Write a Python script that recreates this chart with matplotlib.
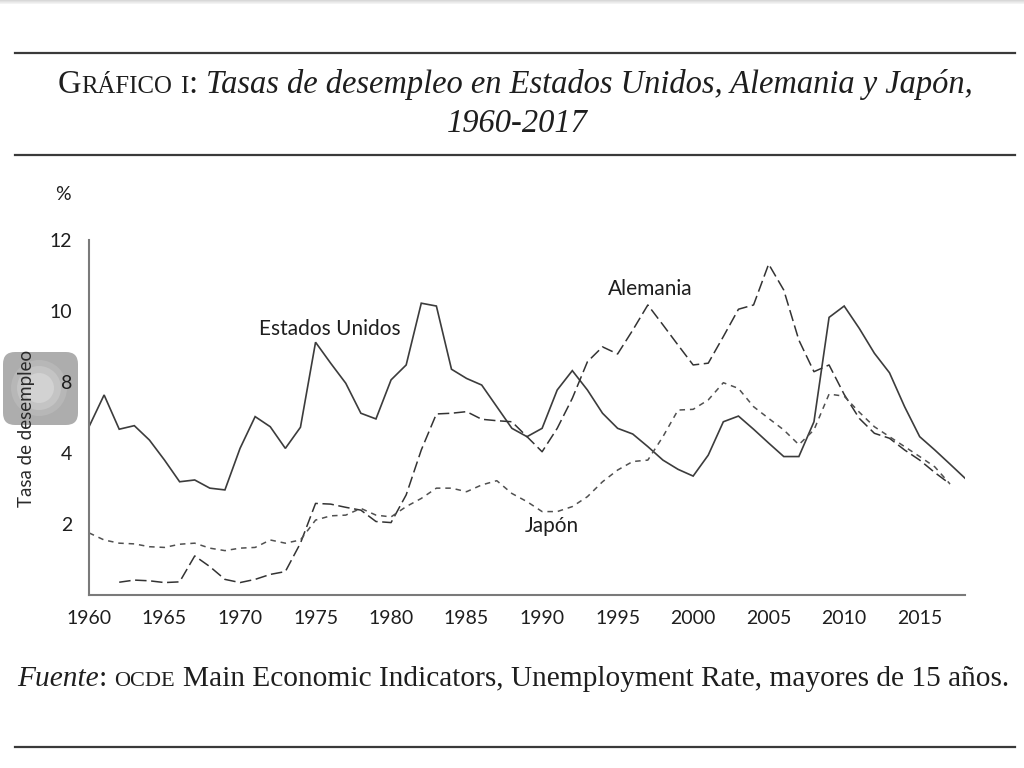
import numpy as np
import matplotlib
matplotlib.use("Agg")
import matplotlib.pyplot as plt
from matplotlib.patches import FancyBboxPatch, Circle, Rectangle
from matplotlib.lines import Line2D

# ---------------- data ----------------
years_us = list(range(1960, 2019))
us = [5.48, 7.27, 5.34, 5.54, 4.73, 3.80, 3.19, 3.24, 3.01, 2.96,
      4.26, 6.05, 5.48, 4.26, 5.45, 9.12, 8.53, 7.93, 6.24, 5.92,
      8.06, 8.48, 10.22, 10.14, 8.36, 8.10, 7.83, 6.61, 5.39, 4.92,
      5.39, 7.55, 8.32, 7.55, 6.24, 5.39, 5.07, 4.36, 3.80, 3.54,
      3.35, 3.94, 5.76, 6.08, 5.34, 4.56, 3.90, 3.90, 5.76, 9.82,
      10.14, 9.51, 8.81, 8.26, 6.61, 4.92, 4.17, 3.69, 3.29]

years_de = list(range(1962, 2018))
de = [0.36, 0.42, 0.40, 0.35, 0.37, 1.10, 0.80, 0.44,
      0.35, 0.44, 0.58, 0.66, 1.46, 2.58, 2.56, 2.47, 2.39, 2.07,
      2.04, 2.82, 4.17, 6.20, 6.24, 6.33, 5.90, 5.82, 5.76, 4.92,
      4.07, 5.39, 7.08, 8.57, 8.99, 8.79, 9.46, 10.17, 9.61, 9.04,
      8.48, 8.53, 9.28, 10.05, 10.17, 11.32, 10.59, 9.18, 8.29, 8.48,
      7.30, 5.95, 5.11, 4.83, 4.17, 3.80, 3.45, 3.13]

years_jp = list(range(1960, 2018))
jp = [1.75, 1.55, 1.46, 1.44, 1.36, 1.34, 1.43, 1.46, 1.32, 1.25,
      1.32, 1.34, 1.55, 1.46, 1.55, 2.11, 2.23, 2.25, 2.44, 2.25,
      2.20, 2.49, 2.72, 3.01, 3.01, 2.91, 3.10, 3.22, 2.86, 2.63,
      2.35, 2.35, 2.49, 2.77, 3.19, 3.52, 3.76, 3.80, 4.92, 6.42,
      6.46, 6.99, 7.96, 7.64, 6.61, 5.95, 5.30, 4.47, 5.30, 7.32,
      7.20, 6.30, 5.48, 4.92, 4.36, 3.90, 3.61, 3.13]

yticks = [2, 4, 8, 10, 12]
xticks = [1960, 1965, 1970, 1975, 1980, 1985, 1990, 1995, 2000, 2005, 2010, 2015]

series_labels = ["Estados Unidos", "Alemania", "Japón"]
title_line2 = "1960-2017"
ylabel = "Tasa de desempleo"

# ---------------- setup ----------------
W, H = 1024, 768
SERIF = ["Liberation Serif", "DejaVu Serif"]
SANS = ["Lato", "DejaVu Sans"]
TXT = "#1e1e1e"

fig = plt.figure(figsize=(W / 100, H / 100), dpi=100)
fig.patch.set_facecolor("white")
renderer = fig.canvas.get_renderer()

# overlay axes in pixel coordinates for decorations
deco = fig.add_axes([0, 0, 1, 1], zorder=0)
deco.set_xlim(0, W)
deco.set_ylim(H, 0)
deco.axis("off")

# faint top shadow band
for i, c in enumerate(["#d8d8d8", "#e2e2e2", "#ebebeb", "#f3f3f3"]):
    deco.add_patch(Rectangle((0, i), W, 1, color=c, lw=0))

# horizontal rules
for yy in (53, 155, 747):
    deco.add_line(Line2D([15, 1015], [yy, yy], color="#3a3a3a", lw=1.6))

# gray button artefact
r = 12
deco.add_patch(FancyBboxPatch((3 + r, 352 + r), 75 - 2 * r, 73 - 2 * r,
                              boxstyle=f"round,pad={r}", fc="#a9a9a9", ec="none", alpha=0.95))
for rad, c in [(28, "#b7b7b7"), (22, "#c4c4c4"), (15, "#d2d2d2")]:
    deco.add_patch(Circle((39, 388), rad, fc=c, ec="none"))


# ---------- rich text runs (small caps emulation) ----------
def space_w(fs, style):
    t1 = fig.text(0, 0, "a a", fontsize=fs, fontstyle=style, family=SERIF)
    t2 = fig.text(0, 0, "aa", fontsize=fs, fontstyle=style, family=SERIF)
    w = t1.get_window_extent(renderer).width - t2.get_window_extent(renderer).width
    t1.remove(); t2.remove()
    return w


def layout(runs, fs, x0, by, draw):
    x = x0
    objs = []
    for txt, sc, st in runs:
        if txt == " ":
            x += space_w(fs * sc, st)
            continue
        t = fig.text(x / W, 1 - by / H, txt, fontsize=fs * sc, fontstyle=st,
                     family=SERIF, va="baseline", ha="left", color=TXT)
        x += t.get_window_extent(renderer).width
        objs.append(t)
    if not draw:
        for o in objs:
            o.remove()
    return x - x0


def draw_runs(runs, cx, by, fs, target_w=None):
    w = layout(runs, fs, 0, by, False)
    if target_w is not None:
        fs = fs * target_w / w
        w = layout(runs, fs, 0, by, False)
    layout(runs, fs, cx - w / 2, by, True)
    return fs


SC = 0.76
title_runs = [("G", 1, "normal"), ("RÁFICO", SC, "normal"), (" ", 1, "normal"),
              ("I", SC, "normal"), (":", 1, "normal"), (" ", 1, "normal"),
              ("Tasas de desempleo en Estados Unidos, Alemania y Japón,", 1, "italic")]
tfs = draw_runs(title_runs, 515, 93, 22, target_w=914)
draw_runs([(title_line2, 1, "italic")], 517, 132, tfs)

foot_runs = [("Fuente", 1, "italic"), (":", 1, "normal"), (" ", 1, "normal"),
             ("OCDE", SC, "normal"), (" ", 1, "normal"),
             ("Main Economic Indicators, Unemployment Rate, mayores de 15 años.", 1, "normal")]
draw_runs(foot_runs, 513, 686, 20, target_w=993)

# ---------------- chart ----------------
ax = fig.add_axes([89 / W, 1 - 595 / H, (965 - 89) / W, (595 - 240) / H], zorder=2)
ax.patch.set_alpha(0)

YK = [0, 2, 4, 8, 10, 12]
YP = [0, 1, 2, 3, 4, 5]


def fwd(v):
    return np.interp(v, YK, YP)


def inv(p):
    return np.interp(p, YP, YK)


ax.set_yscale("function", functions=(fwd, inv))

ax.plot(years_us, us, color="#3c3c3c", lw=1.2, solid_joinstyle="miter")
ax.plot(years_de, de, color="#333333", lw=1.1, dashes=(7.5, 3.0))
ax.plot(years_jp, jp, color="#505050", lw=1.1, dashes=(3.6, 3.2))

ax.set_xlim(1960, 2018)
ax.set_ylim(0, 12)
ax.set_xticks(xticks)
ax.set_yticks(yticks)
ax.set_yticks([], minor=True)
ax.set_xticklabels([str(v) for v in xticks])
ax.set_yticklabels([str(v) for v in yticks])
ax.tick_params(axis="both", length=0, labelsize=14, labelcolor=TXT)
ax.tick_params(axis="x", pad=11)
ax.tick_params(axis="y", pad=12)
for lab in ax.get_xticklabels() + ax.get_yticklabels():
    lab.set_family(SANS)

for s in ("top", "right"):
    ax.spines[s].set_visible(False)
for s in ("left", "bottom"):
    ax.spines[s].set_color("#7a7a7a")
    ax.spines[s].set_linewidth(1.5)

# series labels
fig.text(329.5 / W, 1 - 335 / H, series_labels[0], family=SANS, fontsize=15,
         ha="center", va="baseline", color=TXT)
fig.text(650 / W, 1 - 295 / H, series_labels[1], family=SANS, fontsize=15,
         ha="center", va="baseline", color=TXT)
fig.text(552 / W, 1 - 532 / H, series_labels[2], family=SANS, fontsize=15,
         ha="center", va="baseline", color=TXT)

# axis unit and label
fig.text(63 / W, 1 - 195 / H, "%", family=SANS, fontsize=14, ha="center", va="center", color=TXT)
fig.text(27 / W, 1 - 428 / H, ylabel, family=SANS, fontsize=13.5, rotation=90,
         ha="center", va="center", color="#2a2a2a", zorder=5)

fig.savefig("out.png", dpi=100)
